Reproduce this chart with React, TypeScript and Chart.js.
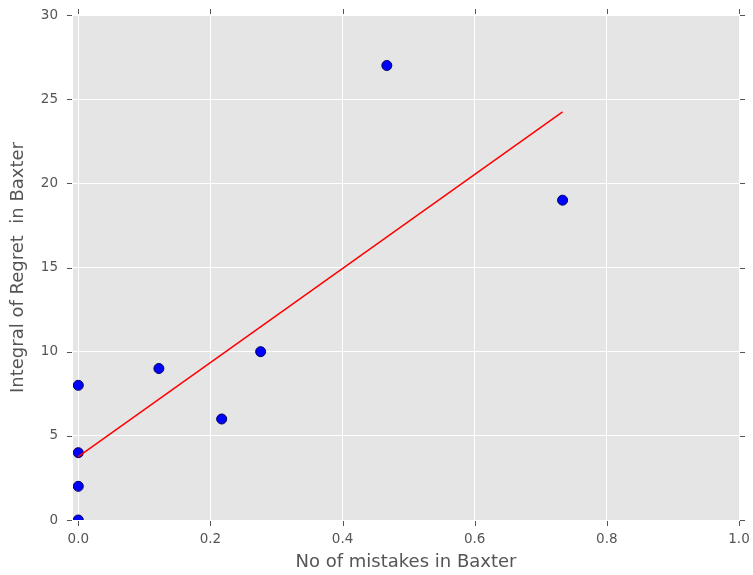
import React, { useEffect, useRef } from "react";
import { Chart, registerables } from "chart.js";

Chart.register(...registerables);

const mistakes = [0, 0, 0, 0, 0.122, 0.217, 0.276, 0.467, 0.733];
const regret = [0, 2, 4, 8, 9, 6, 10, 27, 19];
const fitX = [0, 0.733];
const fitY = [3.76, 24.24];
const xTicks = [0, 0.2, 0.4, 0.6, 0.8, 1.0];
const yTicks = [0, 5, 10, 15, 20, 25, 30];

const GRAY = "#555555";

const bgPlugin = {
  id: "plotBg",
  beforeDraw(chart: any) {
    const { ctx, chartArea } = chart;
    ctx.save();
    ctx.fillStyle = "#e5e5e5";
    ctx.fillRect(chartArea.left, chartArea.top, chartArea.right - chartArea.left, chartArea.bottom - chartArea.top);
    ctx.restore();
  },
  afterDraw(chart: any) {
    const { ctx, chartArea } = chart;
    const xs = chart.scales.x;
    const ys = chart.scales.y;
    const L = 5;
    ctx.save();
    ctx.strokeStyle = GRAY;
    ctx.lineWidth = 1;
    ctx.beginPath();
    xTicks.forEach((v) => {
      const px = Math.round(xs.getPixelForValue(v)) + 0.5;
      ctx.moveTo(px, chartArea.bottom + 1);
      ctx.lineTo(px, chartArea.bottom + L + 1);
      ctx.moveTo(px, chartArea.top - L - 1);
      ctx.lineTo(px, chartArea.top - 1);
    });
    yTicks.forEach((v) => {
      const py = Math.round(ys.getPixelForValue(v)) + 0.5;
      ctx.moveTo(chartArea.left - L - 1, py);
      ctx.lineTo(chartArea.left - 1, py);
      ctx.moveTo(chartArea.right + 1, py);
      ctx.lineTo(chartArea.right + L + 1, py);
    });
    ctx.stroke();
    ctx.restore();
  },
};

export default function App() {
  const ref = useRef<HTMLCanvasElement | null>(null);
  useEffect(() => {
    if (!ref.current) return;
    Chart.defaults.font.family = "'DejaVu Sans', sans-serif";
    const chart = new Chart(ref.current, {
      type: "scatter",
      data: {
        datasets: [
          {
            type: "line",
            data: fitX.map((x, i) => ({ x, y: fitY[i] })),
            borderColor: "#ff0000",
            borderWidth: 1.5,
            pointRadius: 0,
            fill: false,
            clip: 0,
          } as any,
          {
            type: "scatter",
            data: mistakes.map((x, i) => ({ x, y: regret[i] })),
            backgroundColor: "#0000ff",
            borderColor: "#00005a",
            borderWidth: 1,
            pointRadius: 5,
            clip: 0,
          } as any,
        ],
      },
      plugins: [bgPlugin],
      options: {
        animation: false,
        responsive: false,
        events: [],
        layout: { padding: { top: 15, right: 14, left: 0, bottom: 0 } },
        plugins: { legend: { display: false }, tooltip: { enabled: false } },
        scales: {
          x: {
            type: "linear",
            min: -0.008,
            max: 1.0,
            afterBuildTicks: (s: any) => {
              s.ticks = xTicks.map((v) => ({ value: v }));
            },
            afterFit: (s: any) => {
              s.height = 55;
              s.paddingLeft = 0;
              s.paddingRight = 0;
            },
            ticks: {
              callback: (v: any) => Number(v).toFixed(1),
              color: GRAY,
              font: { size: 13.5 },
              padding: 11,
              maxRotation: 0,
            },
            grid: { color: "#ffffff", lineWidth: 1, drawTicks: false },
            border: { display: false },
            title: {
              display: true,
              text: "No of mistakes in Baxter",
              color: GRAY,
              font: { size: 18 },
              padding: { top: 0, bottom: 2 },
            },
          },
          y: {
            type: "linear",
            min: 0,
            max: 30,
            afterBuildTicks: (s: any) => {
              s.ticks = yTicks.map((v) => ({ value: v }));
            },
            afterFit: (s: any) => {
              s.width = 73;
              s.paddingTop = 0;
              s.paddingBottom = 0;
            },
            ticks: {
              color: GRAY,
              font: { size: 13.5 },
              padding: 15,
            },
            grid: { color: "#ffffff", lineWidth: 1, drawTicks: false },
            border: { display: false },
            title: {
              display: true,
              text: "Integral of Regret  in Baxter",
              color: GRAY,
              font: { size: 18 },
              padding: { top: 8, bottom: 0 },
            },
          },
        },
      } as any,
    });
    return () => chart.destroy();
  }, []);
  return (
    <div style={{ position: "fixed", left: 0, top: 0, width: 753, height: 575, background: "#fff" }}>
      <canvas ref={ref} width={753} height={575} style={{ display: "block", width: 753, height: 575 }} />
    </div>
  );
}
